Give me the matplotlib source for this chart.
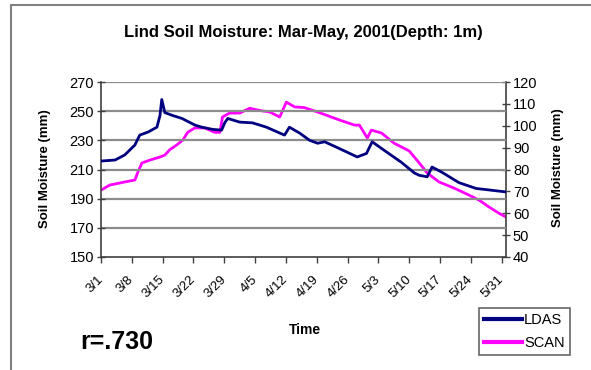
import matplotlib
matplotlib.use("Agg")
import matplotlib.pyplot as plt
from matplotlib.patches import Rectangle

plt.rcParams['font.family'] = ['Liberation Sans', 'DejaVu Sans']

# LDAS (left axis, mm) - day offset from Mar 1
ldas_day = [0, 3.2, 5.4, 7.7, 8.8, 10.7, 12.7, 13.4, 13.8, 14.5, 16.3, 18.4, 21.3, 22.9,
            25.4, 27.4, 28.1, 28.8, 31.5, 34.4, 37.6, 40.6, 41.7, 42.8, 45.1, 47.4, 49.2,
            50.8, 53.7, 58.2, 60.3, 61.6, 64.4, 68.2, 71.2, 72.3, 74.1, 75.2, 77.5, 81.3,
            85.2, 88.1, 92]
ldas_val = [215.8, 216.5, 220, 226.8, 233.6, 235.7, 239, 247, 258, 249, 247, 245, 240.5, 239,
            237.5, 237, 242, 245, 242.5, 242, 239, 235, 233.6, 239, 235, 230, 228,
            229, 225, 218.6, 221, 229, 223, 215, 207.6, 206, 205, 211.7, 208, 201,
            197, 196, 194.6]

# SCAN (right axis, mm)
scan_day = [0, 2.0, 5.4, 7.7, 8.4, 9.3, 11.1, 13.4, 14.5, 15.6, 17.2, 18.6, 19.7, 21.3,
            23.6, 25.8, 27.0, 27.6, 29.2, 31.5, 33.8, 36.0, 38.3, 40.6, 42.1, 44.0, 46.2,
            49.6, 54.2, 57.6, 58.7, 60.5, 61.4, 63.7, 66.6, 70.0, 72.3, 74.1, 76.8, 80.2,
            83.6, 85.9, 88.1, 90.4, 92]
scan_val = [70.6, 72.9, 74.3, 75.2, 78.9, 83, 84.3, 85.7, 86.6, 89, 91.2, 93.5, 97, 99,
            99, 97, 97, 104, 105.8, 105.8, 108, 107, 106.3, 104, 110.8, 108.6, 108.3,
            106, 102.6, 100.3, 100.3, 94.4, 98, 96.7, 92, 88.5, 83, 78.4, 74.3, 71.5,
            68.3, 66, 62.9, 60, 58.3]

tick_days = [0, 7, 14, 21, 28, 35, 42, 49, 56, 63, 70, 77, 84, 91]
tick_labels = ['3/1', '3/8', '3/15', '3/22', '3/29', '4/5', '4/12', '4/19', '4/26',
               '5/3', '5/10', '5/17', '5/24', '5/31']
left_ticks = [150, 170, 190, 210, 230, 250, 270]
right_ticks = [40, 50, 60, 70, 80, 90, 100, 110, 120]

W, H = 591, 370
fig = plt.figure(figsize=(W / 100, H / 100), dpi=100)
fig.patch.set_facecolor('white')

# chart border
fig.patches.append(Rectangle((11 / W, -0.1), 1.2, (H - 5) / H + 0.1, transform=fig.transFigure,
                             fill=False, edgecolor='#808080', linewidth=1.5))

ax = fig.add_axes([101 / W, 1 - 257 / H, (506 - 101) / W, (257 - 82) / H])
ax2 = ax.twinx()

for a in (ax, ax2):
    a.set_facecolor('none')
    for s in a.spines.values():
        s.set_visible(False)

ax.set_zorder(ax2.get_zorder() + 1)

l1, = ax.plot(ldas_day, ldas_val, color='#000080', lw=2.0, label='LDAS', zorder=5)
l2, = ax2.plot(scan_day, scan_val, color='#ff00ff', lw=2.0, label='SCAN')

ax.set_xlim(0, 92)
ax.set_ylim(150, 270)
ax2.set_ylim(40, 120)
ax.set_yticks(left_ticks)
ax2.set_yticks(right_ticks)
ax.set_xticks(tick_days)
ax.set_xticklabels(tick_labels, rotation=45, ha='right', va='center', rotation_mode='anchor')

for v in left_ticks[1:]:
    ax.axhline(v, color='#8c8c8c', lw=1.6, zorder=1)

ax.spines['left'].set_visible(True)
ax.spines['bottom'].set_visible(True)
ax2.spines['right'].set_visible(True)
for s in (ax.spines['left'], ax.spines['bottom'], ax2.spines['right']):
    s.set_color('#404040')
    s.set_linewidth(1.2)

ax.tick_params(axis='y', direction='inout', length=6, width=1.0, color='#404040',
               labelsize=10.5, pad=2)
ax2.tick_params(axis='y', direction='inout', length=6, width=1.0, color='#404040',
                labelsize=10.5, pad=2)
ax.tick_params(axis='x', direction='out', length=4, width=1.0, color='#404040',
               labelsize=9.5, pad=11)

fig.text(303 / W, 1 - 33 / H, 'Lind Soil Moisture: Mar-May, 2001(Depth: 1m)',
         ha='center', va='center', fontsize=12, fontweight='bold')
fig.text(45 / W, 1 - 169 / H, 'Soil Moisture (mm)', rotation=90, ha='center', va='center',
         fontsize=9.5, fontweight='bold')
fig.text(558 / W, 1 - 168 / H, 'Soil Moisture (mm)', rotation=90, ha='center', va='center',
         fontsize=9.5, fontweight='bold')
fig.text(305 / W, 1 - 330 / H, 'Time', ha='center', va='center', fontsize=10,
         fontweight='bold')
fig.text(80 / W, 1 - 342 / H, 'r=.730', ha='left', va='center', fontsize=18,
         fontweight='bold')

leg = fig.legend(handles=[l1, l2], loc='upper left', bbox_to_anchor=(479 / W, 1 - 308 / H),
                 fontsize=10.5, frameon=True, fancybox=False, edgecolor='#404040',
                 handlelength=2.6, handletextpad=0.15, borderpad=0.35, labelspacing=0.6,
                 borderaxespad=0)
leg.get_frame().set_linewidth(1.2)
for h in leg.legend_handles:
    h.set_linewidth(3)

fig.savefig('out.png', dpi=100)
